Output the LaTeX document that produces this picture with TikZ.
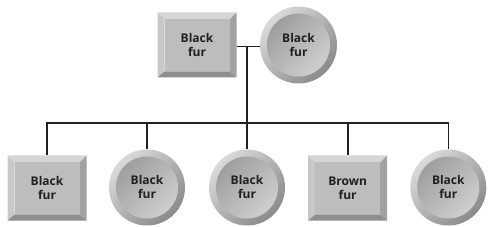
\documentclass[tikz,border=0pt]{standalone}
\usepackage{fontspec}
\setmainfont{Open Sans}
\definecolor{txt}{HTML}{231F20}
\definecolor{bvtop}{HTML}{D6D6D6}
\definecolor{bvleft}{HTML}{C8C8C8}
\definecolor{bvface}{HTML}{BDBDBD}
\definecolor{bvright}{HTML}{A2A2A2}
\definecolor{bvbot}{HTML}{8E8E8E}
\definecolor{ringlight}{HTML}{DADADA}
\definecolor{ringdark}{HTML}{8A8A8A}
\definecolor{facedark}{HTML}{999999}
\definecolor{facelight}{HTML}{D4D4D4}
\begin{document}
\begin{tikzpicture}[x=1pt,y=-1pt,
  lbl/.style={font=\fontsize{12}{14}\selectfont\bfseries, text=txt, align=center},
  sqbox/.style={lbl, rectangle, minimum width=79pt, minimum height=65pt, inner sep=0pt,
    path picture={
      \coordinate (A) at (path picture bounding box.north west);
      \coordinate (B) at (path picture bounding box.north east);
      \coordinate (C) at (path picture bounding box.south east);
      \coordinate (D) at (path picture bounding box.south west);
      \coordinate (a) at ([xshift=7pt,yshift=-7pt]A);
      \coordinate (b) at ([xshift=-7pt,yshift=-7pt]B);
      \coordinate (c) at ([xshift=-7pt,yshift=6pt]C);
      \coordinate (d) at ([xshift=7pt,yshift=6pt]D);
      \fill[bvtop] (A) -- (B) -- (b) -- (a) -- cycle;
      \fill[bvleft] (A) -- (a) -- (d) -- (D) -- cycle;
      \fill[bvright] (B) -- (C) -- (c) -- (b) -- cycle;
      \fill[bvbot] (D) -- (d) -- (c) -- (C) -- cycle;
      \fill[bvface] (a) -- (b) -- (c) -- (d) -- cycle;
    }},
  cibox/.style={lbl, circle, minimum size=#1, inner sep=0pt,
    top color=ringlight, bottom color=ringdark, shading angle=45,
    path picture={
      \shade[top color=facedark, bottom color=facelight, shading angle=45]
        (path picture bounding box.center) circle[radius=#1/2-7pt];
    }},
  cibox/.default=76pt,
  link/.style={draw=txt, line width=1.6pt}
]
\useasboundingbox (0,0) rectangle (493,227);
\node[sqbox] (p1) at (197,45) {Black\\fur};
\node[cibox=77pt] (p2) at (298.5,45) {Black\\fur};
\node[sqbox] (k1) at (47,188) {Black\\fur};
\node[cibox] (k2) at (147,187.5) {Black\\fur};
\node[cibox] (k3) at (247,187.5) {Black\\fur};
\node[sqbox] (k4) at (347.7,188) {Brown\\fur};
\node[cibox] (k5) at (448.3,187.5) {Black\\fur};
\coordinate (mate) at (247,46.5);
\coordinate (bus) at (247,123.3);
\draw[link] (p1.east |- mate) -- (p2.west |- mate);
\draw[link] (mate) -- (bus);
\draw[link] (k1.north) |- (bus) -| (k5.north);
\draw[link] (k2.north) -- (k2.north |- bus);
\draw[link] (k3.north) -- (k3.north |- bus);
\draw[link] (k4.north) -- (k4.north |- bus);
\end{tikzpicture}
\end{document}
